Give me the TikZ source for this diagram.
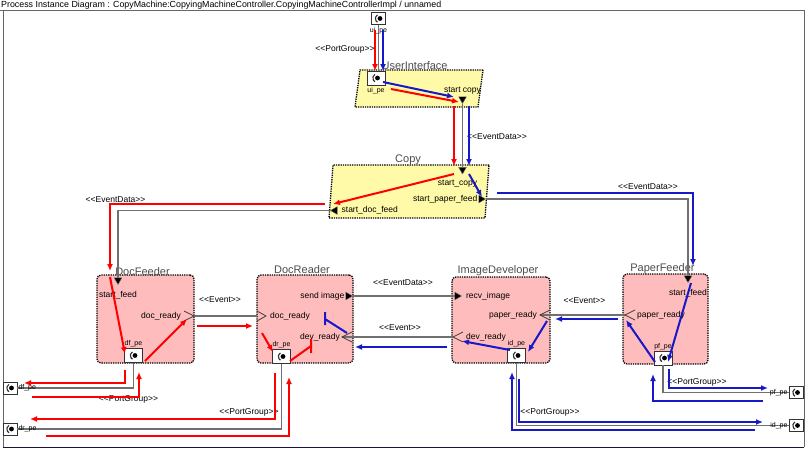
\documentclass[tikz,border=0pt]{standalone}
\usepackage{fontspec}
\setmainfont{Liberation Sans}
\usetikzlibrary{arrows.meta,positioning,shapes.geometric}
\definecolor{comppink}{RGB}{255,188,188}
\definecolor{compyellow}{RGB}{255,250,168}
\definecolor{tracered}{RGB}{255,0,0}
\definecolor{traceblue}{RGB}{24,24,200}
\definecolor{linkgray}{RGB}{112,112,112}
\definecolor{framenavy}{RGB}{20,20,60}
\newcommand{\stlabel}[1]{<{}<#1>{}>}
\tikzset{%
	comp/.style      = {draw, densely dotted, line width=1.3pt, fill=comppink, rounded corners=4pt, inner sep=0pt},
	ycomp/.style     = {draw, densely dotted, line width=1.3pt, fill=compyellow, inner sep=0pt, transform shape},
	complabel/.style = {text=black!70, font=\fontsize{11}{12}\selectfont, inner sep=0pt, text depth=0pt, xshift=-3pt},
	portlabel/.style = {font=\fontsize{8.5}{9}\selectfont, inner sep=0pt},
	pelabel/.style   = {font=\fontsize{7}{8}\selectfont, inner sep=0pt},
	stereo/.style    = {font=\fontsize{8.5}{9}\selectfont, inner sep=0pt}, % <<...>>
	pe/.style        = {draw=black!80, line width=0.6pt, fill=white, minimum width=18pt, minimum height=14pt, inner sep=0pt,
		path picture={\fill[black] ([xshift=1.5pt]path picture bounding box.center) circle (2.4pt);
			\draw[line width=1.1pt] ([xshift=1pt]path picture bounding box.center) ++(120:4.2pt) arc (120:240:4.2pt);}},
	outpe/.style     = {pe, minimum width=14pt, minimum height=12pt},
	datain/.style    = {regular polygon, regular polygon sides=3, fill=black, draw=linkgray, line width=0.4pt, inner sep=0pt, minimum size=9pt},
	evport/.style    = {draw=black!75, line width=0.8pt},
	link/.style      = {draw=linkgray, line width=1.1pt},
	redtrace/.style  = {draw=tracered, line width=2pt, ->},
	bluetrace/.style = {draw=traceblue, line width=2pt, ->},
}
\begin{document}
\begin{tikzpicture}[x=1pt,y=-1pt,>={Latex[length=7pt,width=6pt]}]
	\useasboundingbox (0,0) rectangle (805,450);
	\node[anchor=base west, inner sep=0pt, font=\fontsize{8.85}{9}\selectfont] (title) at (1,7.5)
		{Process Instance Diagram : CopyMachine:CopyingMachineController.CopyingMachineControllerImpl / unnamed};
	\draw[draw=black!60, line width=0.8pt] (0,10) -- (804,10) -- (804,447);
	\draw[draw=black!60, line width=0.8pt] (3,10) -- (3,447);
	\draw[draw=framenavy, line width=1pt] (3,447) -- (804,447);
	
	% components
	\node[ycomp, xslant=0.135, minimum width=123pt, minimum height=37pt] (ui) at (419,88.5) {};
	\node[ycomp, xslant=0.0755, minimum width=156pt, minimum height=53pt] (cp) at (409,191.5) {};
	\node[comp, minimum width=97pt, minimum height=88pt] (df) at (145.5,319) {};
	\node[comp, minimum width=96pt, minimum height=88pt] (dr) at (305,319) {};
	\node[comp, minimum width=98pt, minimum height=86pt] (id) at (501,320) {};
	\node[comp, minimum width=85pt, minimum height=90pt] (pf) at (665.5,319) {};
	\node[complabel, above=0pt of ui, xshift=-4pt] {UserInterface};
	\node[complabel, above=2pt of cp] {Copy};
	\node[complabel, above=-1pt of df] {DocFeeder};
	\node[complabel, above=1pt of dr] {DocReader};
	\node[complabel, above=3pt of id] {ImageDeveloper};
	\node[complabel, above=2pt of pf] {PaperFeeder};
	
	% port groups
	\node[outpe] (uiTop) at (378.5,18.5) {};
	\node[outpe] (dfOut) at (10,388) {};
	\node[outpe] (drOut) at (10,429) {};
	\node[outpe] (pfOut) at (796,392.5) {};
	\node[outpe] (idOut) at (796,425.5) {};
	\node[pe] (uiPe) at (376,78) {};
	\node[pe] (dfPe) at (133.5,355.5) {};
	\node[pe] (drPe) at (281.5,356.5) {};
	\node[pe] (idPe) at (516.5,355.5) {};
	\node[pe] (pfPe) at (663,358) {};
	
	% event and data ports
	\node[datain, shape border rotate=180] (uiStart) at (462.5,99) {};
	\node[datain, shape border rotate=180] (cpStart) at (462.5,169.5) {};
	\node[datain, shape border rotate=90] (cpDoc) at (335,210.5) {};
	\node[datain, shape border rotate=-90] (cpPaper) at (481,199) {};
	\node[datain, shape border rotate=180] (dfStart) at (118,280) {};
	\node[datain, shape border rotate=-90] (drSend) at (348,296) {};
	\node[datain, shape border rotate=-90] (idRecv) at (457,296) {};
	\node[datain, shape border rotate=180] (pfStart) at (688,278) {};
	\coordinate (dfReady) at (194,316);
	\coordinate (drReady) at (257,316);
	\coordinate (drDev) at (342,337);
	\coordinate (idDev) at (453,337);
	\coordinate (idPaper) at (540,315);
	\coordinate (pfReady) at (625,315);
	
	% connectors
	\draw[link] (uiTop) -- (uiTop |- uiPe.north);
	\draw[link] (uiStart) -- (cpStart);
	\draw[link] (cpDoc) -| (dfStart);
	\draw[link] (cpPaper) -| (pfStart);
	\draw[link] (dfReady) -- (drReady);
	\draw[link] (drSend) -- (idRecv);
	\draw[link] (drDev) -- (idDev);
	\draw[link] (pfReady) -- (idPaper);
	\draw[link] (dfPe) |- (dfOut);
	\draw[link] (drPe) |- (drOut);
	\draw[link] (idPe) |- (idOut);
	\draw[link] (pfPe) |- (pfOut);
	\draw[evport] (dfReady) ++(-10,-5) -- (dfReady) -- ++(-10,5);
	\draw[evport] (drReady) ++(0,-5) -- ++(9,5) -- ++(-9,5);
	\draw[evport] (drDev) ++(10,-5) -- (drDev) -- ++(10,5);
	\draw[evport] (idDev) ++(10,-5) -- (idDev) -- ++(10,5);
	\draw[evport] (idPaper) ++(10,-5) -- (idPaper) -- ++(10,5);
	\draw[evport] (pfReady) ++(10,-5) -- (pfReady) -- ++(10,5);
	
	% labels
	\node[pelabel, below=2pt of uiTop] {ui\_pe};
	\node[pelabel, below=2pt of uiPe] {ui\_pe};
	\node[pelabel, above=1pt of dfPe] {df\_pe};
	\node[pelabel, above=1pt of drPe] {dr\_pe};
	\node[pelabel, above=1pt of idPe] {id\_pe};
	\node[pelabel, above=1pt of pfPe] {pf\_pe};
	\node[pelabel, right=1pt of dfOut] {df\_pe};
	\node[pelabel, right=1pt of drOut] {dr\_pe};
	\node[pelabel, left=1pt of pfOut] {pf\_pe};
	\node[pelabel, left=1pt of idOut] {id\_pe};
	\node[portlabel, above=2pt of uiStart] {start copy};
	\node[portlabel, below=5pt of cpStart, xshift=-5pt] {start\_copy};
	\node[portlabel, right=4pt of cpDoc] {start\_doc\_feed};
	\node[portlabel, left=1pt of cpPaper] {start\_paper\_feed};
	\node[portlabel, below=6pt of dfStart] {start\_feed};
	\node[portlabel, left=13pt of dfReady] {doc\_ready};
	\node[portlabel, right=13pt of drReady] {doc\_ready};
	\node[portlabel, left=1pt of drSend] {send image};
	\node[portlabel, left=2pt of drDev] {dev\_ready};
	\node[portlabel, right=4pt of idRecv] {recv\_image};
	\node[portlabel, left=3pt of idPaper] {paper\_ready};
	\node[portlabel, right=13pt of idDev] {dev\_ready};
	\node[portlabel, below=6pt of pfStart] {start\_feed};
	\node[portlabel, right=12pt of pfReady] {paper\_ready};
	\node[stereo] (pgUi) at (345,49) {\stlabel{PortGroup}};
	\node[stereo] (edUiCp) at (497,137) {\stlabel{EventData}};
	\node[stereo] (edCpDf) at (115.5,200) {\stlabel{EventData}};
	\node[stereo] (edCpPf) at (648,187) {\stlabel{EventData}};
	\node[stereo] (evDfDr) at (220,300) {\stlabel{Event}};
	\node[stereo] (edDrId) at (403,283) {\stlabel{EventData}};
	\node[stereo] (evDrId) at (400,328) {\stlabel{Event}};
	\node[stereo] (evPfId) at (584.5,301) {\stlabel{Event}};
	\node[stereo] (pgDf) at (128.5,399) {\stlabel{PortGroup}};
	\node[stereo] (pgDr) at (249,412) {\stlabel{PortGroup}};
	\node[stereo] (pgId) at (550,412) {\stlabel{PortGroup}};
	\node[stereo] (pgPf) at (697,382) {\stlabel{PortGroup}};
	
	% red trace
	\coordinate (ra1) at (375,30);  \coordinate (ra2) at (375,71);
	\coordinate (rb1) at (391,89);  \coordinate (rb2) at (459,102);
	\coordinate (rc1) at (454,106); \coordinate (rc2) at (454,166);
	\coordinate (rd1) at (454,174); \coordinate (rd2) at (333,204);
	\coordinate (re1) at (325,204); \coordinate (re2) at (110,271);
	\coordinate (rf1) at (110,277); \coordinate (rf2) at (125,354);
	\coordinate (rg1) at (145,361); \coordinate (rg2) at (187,319);
	\coordinate (rh1) at (197,326); \coordinate (rh2) at (253,326);
	\coordinate (ri1) at (262,333); \coordinate (ri2) at (273,352);
	\coordinate (rj1) at (290,361); \coordinate (rj2) at (311,346);
	\coordinate (rk1) at (125,370); \coordinate (rk2) at (24,383);
	\coordinate (rl1) at (32,397);  \coordinate (rl2) at (139,372);
	\coordinate (rm1) at (275,373); \coordinate (rm2) at (30,419);
	\coordinate (rn1) at (46,436);  \coordinate (rn2) at (289,377);
	\draw[redtrace] (ra1) -- (ra2);
	\draw[redtrace] (rb1) -- (rb2);
	\draw[redtrace] (rc1) -- (rc2);
	\draw[redtrace] (rd1) -- (rd2);
	\draw[redtrace] (re1) -| (re2);
	\draw[redtrace] (rf1) -- (rf2);
	\draw[redtrace] (rg1) -- (rg2);
	\draw[redtrace] (rh1) -- (rh2);
	\draw[redtrace] (ri1) -- (ri2);
	\draw[redtrace, -] (rj1) -- (rj2) ++(0,-7) -- ++(0,14);
	\draw[redtrace] (rk1) |- (rk2);
	\draw[redtrace] (rl1) -| (rl2);
	\draw[redtrace] (rm1) |- (rm2);
	\draw[redtrace] (rn1) -| (rn2);
	
	% blue trace
	\coordinate (ba1) at (383,30);  \coordinate (ba2) at (383,71);
	\coordinate (bb1) at (383,82);  \coordinate (bb2) at (454,97);
	\coordinate (bc1) at (469,106); \coordinate (bc2) at (469,166);
	\coordinate (bd1) at (469,174); \coordinate (bd2) at (482,197);
	\coordinate (be1) at (497,193); \coordinate (be2) at (693,266);
	\coordinate (bf1) at (691,283); \coordinate (bf2) at (668,362);
	\coordinate (bg1) at (655,362); \coordinate (bg2) at (626,320);
	\coordinate (bh1) at (618,319); \coordinate (bh2) at (555,319);
	\coordinate (bi1) at (547,321); \coordinate (bi2) at (528,352);
	\coordinate (bj1) at (510,350); \coordinate (bj2) at (462,341);
	\coordinate (bk1) at (447,347); \coordinate (bk2) at (355,347);
	\coordinate (bl1) at (347,333); \coordinate (bl2) at (325,319);
	\coordinate (bm1) at (519,379); \coordinate (bm2) at (763,422);
	\coordinate (bn1) at (755,430); \coordinate (bn2) at (512,372);
	\coordinate (bo1) at (669,369); \coordinate (bo2) at (768,388);
	\coordinate (bp1) at (763,401); \coordinate (bp2) at (653,374);
	\draw[bluetrace] (ba1) -- (ba2);
	\draw[bluetrace] (bb1) -- (bb2);
	\draw[bluetrace] (bc1) -- (bc2);
	\draw[bluetrace] (bd1) -- (bd2);
	\draw[bluetrace] (be1) -| (be2);
	\draw[bluetrace] (bf1) -- (bf2);
	\draw[bluetrace] (bg1) -- (bg2);
	\draw[bluetrace] (bh1) -- (bh2);
	\draw[bluetrace] (bi1) -- (bi2);
	\draw[bluetrace] (bj1) -- (bj2);
	\draw[bluetrace] (bk1) -- (bk2);
	\draw[bluetrace, -] (bl1) -- (bl2) ++(0,-7) -- ++(0,13);
	\draw[bluetrace] (bm1) |- (bm2);
	\draw[bluetrace] (bn1) -| (bn2);
	\draw[bluetrace] (bo1) |- (bo2);
	\draw[bluetrace] (bp1) -| (bp2);
\end{tikzpicture}
\end{document}
